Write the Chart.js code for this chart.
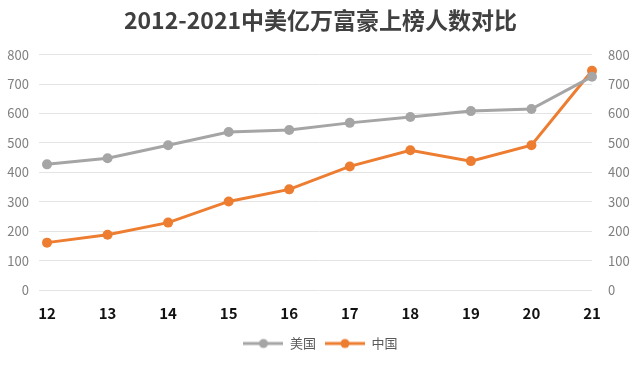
<!DOCTYPE html>
<html lang="zh">
<head>
<meta charset="UTF-8">
<title>2012-2021中美亿万富豪上榜人数对比</title>
<script src="https://cdn.jsdelivr.net/npm/chart.js"></script>
<style>
  html, body { margin: 0; padding: 0; background: #fff; }
  #wrap { width: 641px; height: 365px; }
</style>
</head>
<body>
<div id="wrap"><canvas id="c" width="641" height="365"></canvas></div>
<script>
const years = ['12', '13', '14', '15', '16', '17', '18', '19', '20', '21'];
const usa = [427, 448, 492, 537, 544, 568, 588, 608, 615, 725];
const china = [161, 188, 229, 301, 342, 420, 475, 438, 492, 745];
const yTicks = [0, 100, 200, 300, 400, 500, 600, 700, 800];

const GRAY = '#a5a5a5';
const ORANGE = '#ed7d31';

// legend marker: short line with a dot in the middle
function marker(color) {
    const c = document.createElement('canvas');
    c.width = 40; c.height = 12;
    const g = c.getContext('2d');
    g.strokeStyle = color; g.lineWidth = 3;
    g.beginPath(); g.moveTo(0, 6); g.lineTo(40, 6); g.stroke();
    g.fillStyle = color;
    g.beginPath(); g.arc(20, 6, 4.5, 0, Math.PI * 2); g.fill();
    return c;
}

const font = '"Noto Sans CJK SC", "Noto Sans", sans-serif';

new Chart(document.getElementById('c'), {
    type: 'line',
    data: {
        labels: years,
        datasets: [
            { label: '美国', data: usa, borderColor: GRAY, backgroundColor: GRAY, borderWidth: 3,
              pointRadius: 5, pointBorderWidth: 0, tension: 0, yAxisID: 'y' },
            { label: '中国', data: china, borderColor: ORANGE, backgroundColor: ORANGE, borderWidth: 3,
              pointRadius: 5, pointBorderWidth: 0, tension: 0, yAxisID: 'y' }
        ]
    },
    options: {
        responsive: false,
        animation: false,
        layout: { padding: { top: 6, bottom: 5 } },
        scales: {
            x: {
                offset: false,
                grid: { display: false },
                border: { display: false },
                ticks: { color: '#111', font: { family: font, size: 15, weight: 'bold' }, padding: 6 }
            },
            y: {
                position: 'left', min: 0, max: 800,
                afterBuildTicks: s => { s.ticks = yTicks.map(v => ({ value: v })); },
                afterFit: s => { s.width = 47; },
                grid: { color: '#e4e4e4', lineWidth: 1 },
                border: { display: false },
                ticks: { color: '#7f7f7f', font: { family: font, size: 13 }, padding: 10 }
            },
            y2: {
                position: 'right', min: 0, max: 800,
                afterBuildTicks: s => { s.ticks = yTicks.map(v => ({ value: v })); },
                afterFit: s => { s.width = 49; },
                grid: { display: false },
                border: { display: false },
                ticks: { color: '#7f7f7f', font: { family: font, size: 13 }, padding: 8 }
            }
        },
        plugins: {
            title: {
                display: true,
                text: '2012-2021中美亿万富豪上榜人数对比',
                color: '#404040',
                font: { family: font, size: 23, weight: 'bold' },
                padding: { top: 0, bottom: 21 }
            },
            legend: {
                position: 'bottom',
                labels: {
                    usePointStyle: true,
                    pointStyleWidth: 40,
                    color: '#595959',
                    font: { family: font, size: 13 },
                    boxHeight: 12,
                    padding: 9,
                    generateLabels: chart => chart.data.datasets.map((d, i) => ({
                        text: d.label, pointStyle: marker(d.borderColor), fontColor: '#595959',
                        datasetIndex: i, lineWidth: 0, hidden: false
                    }))
                }
            },
            tooltip: { enabled: false }
        }
    }
});
</script>
</body>
</html>
